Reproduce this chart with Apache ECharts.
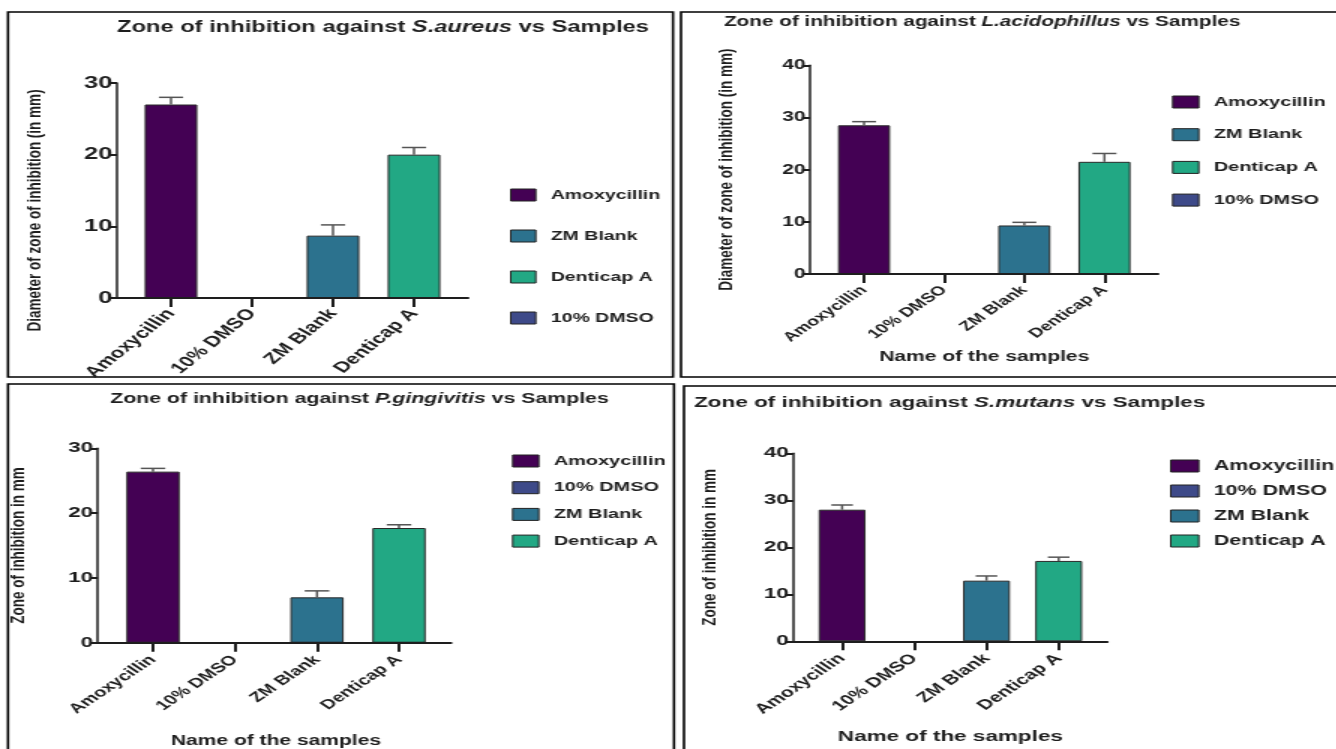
<!DOCTYPE html>
<html>
<head>
<meta charset="utf-8">
<title>Zone of inhibition vs Samples</title>
<script src="https://cdn.jsdelivr.net/npm/echarts/dist/echarts.min.js"></script>
<style>
  html, body { margin: 0; padding: 0; background: #fff; overflow: hidden; }
  #page { position: absolute; left: 0; top: 0; width: 1336px; height: 749px; overflow: hidden; background: #fff; }
  #chart { position: absolute; left: 0; top: 0; height: 749px; transform-origin: 0 0; }
</style>
</head>
<body>
<div id="page"><div id="chart"></div></div>
<script>
// ---- data ----
const categories = ['Amoxycillin', '10% DMSO', 'ZM Blank', 'Denticap A'];

// zone of inhibition (mm), mean and SD per sample
const saureusMean = [27.0, 0, 8.7, 20.0];
const saureusSD   = [1.0, 0, 1.5, 1.0];

const lacidoMean  = [28.5, 0, 9.3, 21.5];
const lacidoSD    = [0.7, 0, 0.6, 1.6];

const pgingMean   = [26.4, 0, 7.0, 17.7];
const pgingSD     = [0.5, 0, 1.0, 0.5];

const smutansMean = [28.0, 0, 12.9, 17.1];
const smutansSD   = [1.0, 0, 1.0, 0.8];

const legendOrderA = ['Amoxycillin', 'ZM Blank', 'Denticap A', '10% DMSO'];
const legendOrderB = ['Amoxycillin', '10% DMSO', 'ZM Blank', 'Denticap A'];

const Y_NAME_LONG  = 'Diameter of zone of inhibition (in mm)';
const Y_NAME_SHORT = 'Zone of inhibition in mm';
const X_NAME = 'Name of the samples';

// ---- styling ----
const FONT = "'Liberation Sans', Arial, Helvetica, sans-serif";
const INK = '#1e1e1e';
const COLORS = {
  'Amoxycillin': '#440154',
  '10% DMSO': '#3e4a89',
  'ZM Blank': '#2c728e',
  'Denticap A': '#22a884'
};

// the figure is drawn narrow and widened horizontally
const STRETCH = 1.5;
const PAGE_W = 1336;
const chartEl = document.getElementById('chart');
chartEl.style.width = (PAGE_W / STRETCH) + 'px';
chartEl.style.transform = 'scaleX(' + STRETCH + ')';
const sx = v => v / STRETCH;

// layout of the four panels, in page pixels
const panels = [
  { mean: saureusMean, sd: saureusSD, organism: 'S.aureus', yMax: 30, yName: Y_NAME_LONG, xName: '',
    titleX: 383, titleY: 28, titleAlign: 'center', titleSize: 15.8,
    frame: [117, 468], band: [130.5, 454.5], top: 83, bottom: 298,
    tickSize: 17, catSize: 15, catRotate: 50, catMargin: 13,
    yNameSize: 13.5, yNameX: 35, yNameShift: 20, xNameSize: 14, xNameY: 0,
    legend: legendOrderA, legendX: 510, legendY: 195, legendStep: 41, legendSize: 13, iconW: 25,
    box: [8, 12, 673, 377] },
  { mean: lacidoMean, sd: lacidoSD, organism: 'L.acidophillus', yMax: 40, yName: Y_NAME_LONG, xName: X_NAME,
    titleX: 724, titleY: 22, titleAlign: 'left', titleSize: 13.8,
    frame: [810, 1158], band: [824, 1144.5], top: 65.3, bottom: 274,
    tickSize: 14, catSize: 13, catRotate: 45, catMargin: 14,
    yNameSize: 13.5, yNameX: 727, yNameShift: 0, xNameSize: 14, xNameY: 357,
    legend: legendOrderA, legendX: 1172, legendY: 102, legendStep: 32.7, legendSize: 13.3, iconW: 26,
    box: [681, 12, 1345, 377] },
  { mean: pgingMean, sd: pgingSD, organism: 'P.gingivitis', yMax: 30, yName: Y_NAME_SHORT, xName: X_NAME,
    titleX: 359.5, titleY: 399, titleAlign: 'center', titleSize: 14.2,
    frame: [97.7, 451], band: [112, 440], top: 448.3, bottom: 642.7,
    tickSize: 15, catSize: 13.5, catRotate: 45, catMargin: 15,
    yNameSize: 13.5, yNameX: 18, yNameShift: 0, xNameSize: 14, xNameY: 741,
    legend: legendOrderB, legendX: 512, legendY: 461, legendStep: 26.7, legendSize: 13.3, iconW: 26,
    box: [8, 384, 674, 760] },
  { mean: smutansMean, sd: smutansSD, organism: 'S.mutans', yMax: 40, yName: Y_NAME_SHORT, xName: X_NAME,
    titleX: 694, titleY: 403, titleAlign: 'left', titleSize: 15,
    frame: [793.3, 1107.3], band: [806, 1094.8], top: 453.3, bottom: 641.3,
    tickSize: 15, catSize: 14, catRotate: 45, catMargin: 15,
    yNameSize: 13.5, yNameX: 710, yNameShift: 0, xNameSize: 15, xNameY: 737,
    legend: legendOrderB, legendX: 1170, legendY: 466, legendStep: 25, legendSize: 14.3, iconW: 28,
    box: [684, 386, 1345, 760] }
];

// upper error bar: stem from the bar top to mean + SD, with a cap
function renderErrorBar(params, api) {
  const i = api.value(0), m = api.value(1), s = api.value(2);
  if (!s) return null;
  const base = api.coord([i, m]);
  const top = api.coord([i, m + s]);
  const half = api.size([1, 0])[0] * 0.65 * 0.23;
  const style = { stroke: '#555', lineWidth: 1.5 };
  return {
    type: 'group',
    children: [
      { type: 'line', shape: { x1: base[0], y1: base[1], x2: top[0], y2: top[1] }, style: style },
      { type: 'line', shape: { x1: top[0] - half, y1: top[1], x2: top[0] + half, y2: top[1] }, style: style }
    ]
  };
}

const grid = [], xAxis = [], yAxis = [], series = [], legend = [], title = [], graphic = [];

panels.forEach((p, k) => {
  const fi = 2 * k, bi = 2 * k + 1;
  const h = p.bottom - p.top;

  // frame grid: full-length x axis line and the y axis
  grid.push({ left: sx(p.frame[0]), width: sx(p.frame[1] - p.frame[0]), top: p.top, height: h });
  // bar grid: categories
  grid.push({ left: sx(p.band[0]), width: sx(p.band[1] - p.band[0]), top: p.top, height: h });

  xAxis.push({
    gridIndex: fi, type: 'value', min: 0, max: 1, z: 10,
    axisLine: { show: true, lineStyle: { color: INK, width: 2 } },
    axisTick: { show: false }, axisLabel: { show: false }, splitLine: { show: false }
  });
  yAxis.push({
    gridIndex: fi, type: 'value', min: 0, max: p.yMax, interval: 10, z: 10,
    axisLine: { show: true, lineStyle: { color: INK, width: 1.5 } },
    axisTick: { show: true, length: 5.3, lineStyle: { color: INK, width: 2 } },
    axisLabel: { fontSize: p.tickSize, fontWeight: 'bold', color: INK, fontFamily: FONT, margin: 3 },
    splitLine: { show: false },
    name: p.yName, nameLocation: 'middle',
    nameGap: sx(p.frame[0] - p.yNameX) - p.yNameSize / 2,
    nameTextStyle: {
      fontSize: p.yNameSize, fontWeight: 'bold', color: INK, fontFamily: FONT,
      lineHeight: p.yNameSize, padding: [0, 2 * p.yNameShift, 0, 0]
    }
  });

  xAxis.push({
    gridIndex: bi, type: 'category', data: categories,
    axisLine: { show: false },
    axisTick: { show: true, alignWithLabel: true, length: 9, lineStyle: { color: INK, width: 2 } },
    axisLabel: { interval: 0, rotate: p.catRotate, fontSize: p.catSize, fontWeight: 'bold',
                 color: INK, fontFamily: FONT, margin: p.catMargin },
    name: p.xName, nameLocation: 'middle',
    nameGap: p.xNameY - p.bottom - p.xNameSize / 2,
    nameTextStyle: { fontSize: p.xNameSize, fontWeight: 'bold', color: INK, fontFamily: FONT, lineHeight: p.xNameSize }
  });
  yAxis.push({ gridIndex: bi, type: 'value', min: 0, max: p.yMax, show: false });

  categories.forEach((c, i) => {
    series.push({
      type: 'bar', name: c, xAxisIndex: bi, yAxisIndex: bi,
      data: categories.map((_, j) => (j === i ? p.mean[i] : '-')),
      barWidth: '65%', barGap: '-100%',
      itemStyle: { color: COLORS[c], borderColor: '#2a2a2a', borderWidth: p.mean[i] ? 1 : 0 },
      emphasis: { disabled: true }
    });
  });

  series.push({
    type: 'custom', name: 'SD', xAxisIndex: bi, yAxisIndex: bi, z: 5,
    data: categories.map((_, i) => [i, p.mean[i], p.sd[i]]),
    encode: { x: 0, y: 1 },
    renderItem: renderErrorBar
  });

  legend.push({
    orient: 'vertical', left: sx(p.legendX), top: p.legendY - 8, padding: 0,
    itemWidth: sx(p.iconW), itemHeight: 12, itemGap: p.legendStep - 16,
    data: p.legend, icon: 'rect', selectedMode: false,
    itemStyle: { borderColor: '#222', borderWidth: 1 },
    textStyle: { fontSize: p.legendSize, fontWeight: 'bold', color: INK, fontFamily: FONT,
                 lineHeight: 16, padding: [0, 0, 0, 5] }
  });

  const rs = { fontSize: p.titleSize, fontWeight: 'bold', color: INK, fontFamily: FONT, lineHeight: p.titleSize + 2 };
  title.push({
    text: '{n|Zone of inhibition against }{i|' + p.organism + '}{n| vs Samples}',
    left: sx(p.titleX), top: p.titleY - (p.titleSize + 2) / 2, textAlign: p.titleAlign, padding: 0,
    textStyle: { rich: { n: rs, i: Object.assign({}, rs, { fontStyle: 'italic' }) } }
  });

  graphic.push({
    type: 'rect', silent: true,
    shape: { x: sx(p.box[0]), y: p.box[1], width: sx(p.box[2] - p.box[0]), height: p.box[3] - p.box[1] },
    style: { fill: 'none', stroke: '#000', lineWidth: 1.6 }
  });
});

const chart = echarts.init(chartEl);
chart.setOption({
  backgroundColor: '#fff',
  animation: false,
  title, grid, xAxis, yAxis, series, legend, graphic
});
</script>
</body>
</html>
